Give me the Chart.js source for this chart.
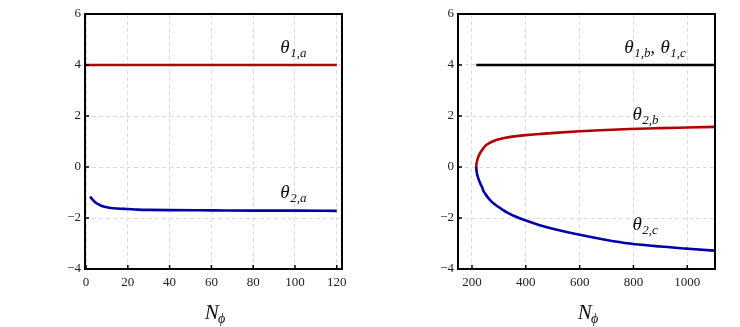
<!DOCTYPE html>
<html>
<head>
<meta charset="utf-8">
<script src="https://cdn.jsdelivr.net/npm/chart.js@4.4.0/dist/chart.umd.min.js"></script>
<style>
  html, body { margin: 0; padding: 0; background: #fff; }
  #wrap { position: relative; width: 740px; height: 327px; }
  .pane { position: absolute; top: 0; width: 370px; height: 327px; }
</style>
</head>
<body>
<div id="wrap">
  <div class="pane" style="left:0"><canvas id="c1" width="370" height="327"></canvas></div>
  <div class="pane" style="left:370px"><canvas id="c2" width="370" height="327"></canvas></div>
</div>
<script>
// ---------- data: left panel (a) ----------
const xTicksA = [0, 20, 40, 60, 80, 100, 120];
const yTicks = [-4, -2, 0, 2, 4, 6];
const theta1aX = [0, 120];
const theta1aY = [4, 4];
const theta2aX = [2, 2.5, 3, 3.5, 4, 5, 6, 7, 8, 10, 12, 15, 20, 25, 30, 40, 60, 80, 100, 120];
const theta2aY = [-1.16, -1.22, -1.27, -1.31, -1.35, -1.42, -1.47, -1.51, -1.54, -1.58, -1.61, -1.63, -1.65, -1.67, -1.68, -1.69, -1.70, -1.71, -1.71, -1.72];

// ---------- data: right panel (b, c) ----------
const xTicksB = [200, 400, 600, 800, 1000];
const theta1bcX = [216, 1100];
const theta1bcY = [4, 4];
const theta2bX = [216, 216.5, 218, 220, 223.5, 228, 233, 240, 247, 257, 270, 283, 297, 320, 350, 400, 452, 508, 600, 700, 786, 900, 1000, 1100];
const theta2bY = [0, 0.10, 0.20, 0.28, 0.40, 0.50, 0.60, 0.70, 0.80, 0.89, 0.97, 1.03, 1.08, 1.14, 1.19, 1.25, 1.295, 1.34, 1.40, 1.45, 1.49, 1.525, 1.55, 1.575];
const theta2cX = [216, 216.4, 217.5, 219.4, 222, 225.3, 229, 233, 238, 241, 248, 258, 270, 283, 297, 313, 330, 359, 400, 452, 508, 600, 700, 786, 900, 1000, 1100];
const theta2cY = [0, -0.10, -0.20, -0.30, -0.40, -0.50, -0.60, -0.70, -0.80, -0.90, -1.03, -1.18, -1.33, -1.45, -1.56, -1.67, -1.78, -1.93, -2.10, -2.28, -2.44, -2.66, -2.86, -3.00, -3.12, -3.20, -3.28];

// curve labels anchored at data coordinates
const labelsA = [
  { parts: [["θ", "1,a"]], x: 93, y: 4.47 },
  { parts: [["θ", "2,a"]], x: 93, y: -1.23 }
];
const labelsB = [
  { parts: [["θ", "1,b"], ["θ", "1,c"]], x: 766, y: 4.47 },
  { parts: [["θ", "2,b"]], x: 796, y: 1.84 },
  { parts: [["θ", "2,c"]], x: 796, y: -2.47 }
];

const RED = '#b30000', BLUE = '#0000aa', BLACK = '#000000';
const SERIF = '"Liberation Serif", "DejaVu Serif", serif';

function pts(xs, ys) { return xs.map((x, i) => ({ x: x, y: ys[i] })); }

function ds(xs, ys, color) {
  return {
    data: pts(xs, ys), borderColor: color, backgroundColor: color,
    borderWidth: 2.6, pointRadius: 0, showLine: true, fill: false,
    cubicInterpolationMode: 'monotone', borderCapStyle: 'butt', borderJoinStyle: 'round'
  };
}

function decoPlugin(labels) {
  return {
    id: 'deco',
    afterDraw(chart) {
      const ctx = chart.ctx, a = chart.chartArea;
      const xs = chart.scales.x, ys = chart.scales.y;
      ctx.save();
      // inward tick marks
      ctx.strokeStyle = '#000'; ctx.lineWidth = 1.5;
      xs.ticks.forEach(t => {
        const p = xs.getPixelForValue(t.value);
        ctx.beginPath(); ctx.moveTo(p, a.bottom); ctx.lineTo(p, a.bottom - 4); ctx.stroke();
      });
      ys.ticks.forEach(t => {
        const p = ys.getPixelForValue(t.value);
        ctx.beginPath(); ctx.moveTo(a.left, p); ctx.lineTo(a.left + 4, p); ctx.stroke();
      });
      // frame
      ctx.lineWidth = 2;
      ctx.strokeRect(a.left, a.top, a.right - a.left, a.bottom - a.top);
      // curve labels
      ctx.fillStyle = '#111'; ctx.textBaseline = 'alphabetic'; ctx.textAlign = 'left';
      labels.forEach(l => {
        let px = xs.getPixelForValue(l.x);
        const py = ys.getPixelForValue(l.y);
        l.parts.forEach((p, i) => {
          if (i > 0) {
            ctx.font = '18px ' + SERIF;
            ctx.fillText(',', px, py); px += ctx.measureText(', ').width + 1;
          }
          ctx.font = 'italic 19px ' + SERIF;
          ctx.fillText(p[0], px, py); px += ctx.measureText(p[0]).width;
          ctx.font = 'italic 13px ' + SERIF;
          ctx.fillText(p[1], px + 0.5, py + 4); px += ctx.measureText(p[1]).width + 0.5;
        });
      });
      // axis title N_phi
      const cx = (a.left + a.right) / 2;
      ctx.font = 'italic 21px ' + SERIF;
      const wN = ctx.measureText('N').width;
      ctx.font = 'italic 14px ' + SERIF;
      const wP = ctx.measureText('ϕ').width;
      let sx = cx - (wN + wP) / 2 + 2;
      ctx.font = 'italic 21px ' + SERIF;
      ctx.fillText('N', sx, 319);
      ctx.font = 'italic 14px ' + SERIF;
      ctx.fillText('ϕ', sx + wN - 1, 323);
      ctx.restore();
    }
  };
}

function makeChart(id, datasets, xMin, xMax, xTicks, yWidth, padRight, labels) {
  return new Chart(document.getElementById(id), {
    type: 'scatter',
    data: { datasets: datasets },
    options: {
      responsive: false, animation: false,
      layout: { padding: { left: 0, right: padRight, top: 14, bottom: 0 } },
      plugins: { legend: { display: false }, tooltip: { enabled: false } },
      scales: {
        x: {
          type: 'linear', min: xMin, max: xMax,
          afterBuildTicks: s => { s.ticks = xTicks.map(v => ({ value: v })); },
          afterFit: s => { s.height = 58; },
          grid: { color: '#dcdcdc', lineWidth: 1, drawTicks: false, tickLength: 0 },
          border: { display: false, dash: [4, 3] },
          ticks: { color: '#222', font: { family: SERIF, size: 13 }, padding: 6, maxRotation: 0,
                   callback: v => String(v).replace('-', '\u2212') }
        },
        y: {
          type: 'linear', min: -4, max: 6,
          afterBuildTicks: s => { s.ticks = yTicks.map(v => ({ value: v })); },
          afterFit: s => { s.width = yWidth; },
          grid: { color: '#dcdcdc', lineWidth: 1, drawTicks: false, tickLength: 0 },
          border: { display: false, dash: [4, 3] },
          ticks: { color: '#222', font: { family: SERIF, size: 13 }, padding: 4,
                   callback: v => String(v).replace('-', '\u2212') }
        }
      }
    },
    plugins: [decoPlugin(labels)]
  });
}

makeChart('c1', [
  ds(theta1aX, theta1aY, RED),
  ds(theta2aX, theta2aY, BLUE)
], -0.5, 122.5, xTicksA, 85, 28, labelsA);

makeChart('c2', [
  ds(theta1bcX, theta1bcY, BLACK),
  ds(theta2bX, theta2bY, RED),
  ds(theta2cX, theta2cY, BLUE)
], 148, 1103, xTicksB, 88, 25, labelsB);
</script>
</body>
</html>
